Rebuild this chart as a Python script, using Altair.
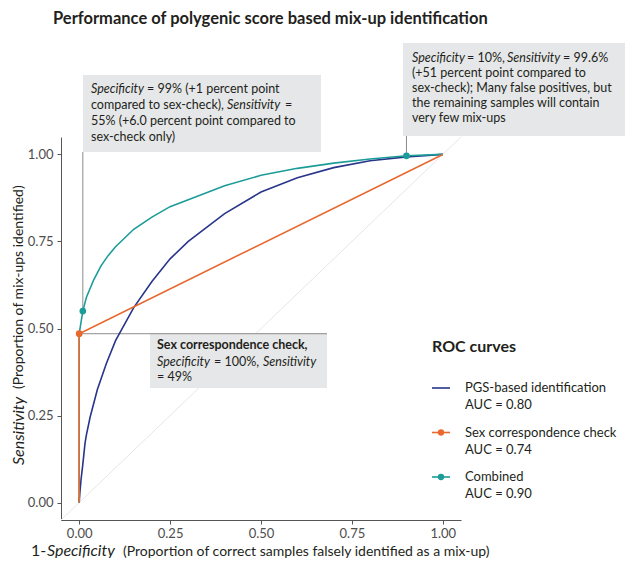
import altair as alt
import pandas as pd

# ---------------- data ----------------
series = ["PGS-based identification", "Sex correspondence check", "Combined"]
auc = [0.80, 0.74, 0.90]
colors = ["#28358a", "#e8682e", "#1c9c99"]

fpr_pgs = [0.0, 0.002, 0.005, 0.01, 0.016, 0.02, 0.03, 0.05, 0.075, 0.1, 0.15,
           0.2, 0.25, 0.3, 0.4, 0.5, 0.6, 0.7, 0.8, 0.9, 1.0]
tpr_pgs = [0.0, 0.03, 0.065, 0.11, 0.17, 0.195, 0.245, 0.325, 0.40, 0.465, 0.56,
           0.635, 0.70, 0.75, 0.83, 0.892, 0.933, 0.962, 0.982, 0.993, 1.0]

fpr_sex = [0.0, 0.0, 1.0]
tpr_sex = [0.0, 0.485, 1.0]

fpr_comb = [0.0, 0.0, 0.01, 0.02, 0.04, 0.06, 0.08, 0.1, 0.15, 0.2, 0.25, 0.3,
            0.4, 0.5, 0.6, 0.7, 0.8, 0.9, 1.0]
tpr_comb = [0.0, 0.485, 0.55, 0.59, 0.64, 0.68, 0.71, 0.735, 0.785, 0.82, 0.85,
            0.87, 0.91, 0.94, 0.96, 0.975, 0.987, 0.996, 1.0]

marked_series = ["Sex correspondence check", "Combined", "Combined"]
marked_fpr = [0.0, 0.01, 0.9]
marked_tpr = [0.485, 0.55, 0.996]

diag = [-0.05, 1.05]
ticks = [0.0, 0.25, 0.5, 0.75, 1.0]

# ---------------- tables ----------------
rows = []
for name, xs_, ys_ in [(series[0], fpr_pgs, tpr_pgs), (series[2], fpr_comb, tpr_comb),
                       (series[1], fpr_sex, tpr_sex)]:
    for i, (a, b) in enumerate(zip(xs_, ys_)):
        rows.append({"series": name, "fpr": a, "tpr": b, "idx": i})
curves = pd.DataFrame(rows)
marked = pd.DataFrame({"series": marked_series, "fpr": marked_fpr, "tpr": marked_tpr})
diag_df = pd.DataFrame({"fpr": diag, "tpr": diag})

# ---------------- layout (page pixels) ----------------
OX, OY = 61, 137          # page position of the plot-area origin
W, H = 400, 383
FONT = "Lato"
TXT = "#231f20"

def px(v):
    return v - OX

def py(v):
    return v - OY

color_scale = alt.Scale(domain=series, range=colors)
xs = alt.Scale(domain=[-0.05, 1.05], nice=False, zero=False)
ys = alt.Scale(domain=[-0.05, 1.05], nice=False, zero=False)
axis_common = dict(values=ticks, format=".2f", grid=False, domainColor="#555555",
                   tickColor="#555555", tickSize=4, labelFont=FONT, labelFontSize=13,
                   labelColor="#4d4d4d", title=None)

diag_layer = alt.Chart(diag_df).mark_line(color="#e6e6e6", strokeWidth=1).encode(
    x=alt.X("fpr:Q", scale=xs, axis=alt.Axis(labelPadding=3, **axis_common)),
    y=alt.Y("tpr:Q", scale=ys, axis=alt.Axis(labelPadding=4, **axis_common)),
)

# annotation boxes
boxes = pd.DataFrame({
    "x1": [px(83), px(403), px(150)],
    "x2": [px(321), px(625), px(327)],
    "y1": [py(75), py(43), py(333)],
    "y2": [py(152), py(136), py(388)],
})
box_layer = alt.Chart(boxes).mark_rect(color="#e6e7e8").encode(
    x=alt.X("x1:Q", scale=None, axis=None), x2="x2:Q",
    y=alt.Y("y1:Q", scale=None, axis=None), y2="y2:Q",
)

# connectors from marked points to the labels
conn_v = alt.Chart(pd.DataFrame({"fpr": [marked_fpr[1], marked_fpr[2]],
                                 "tpr": [marked_tpr[1], marked_tpr[2]]})).mark_rule(
    color="#8c8c8c", strokeWidth=1)
conn_1 = conn_v.transform_filter("datum.fpr < 0.5").encode(
    x=alt.X("fpr:Q", scale=xs), y=alt.Y("tpr:Q", scale=ys), y2=alt.value(py(152)))
conn_2 = conn_v.transform_filter("datum.fpr > 0.5").encode(
    x=alt.X("fpr:Q", scale=xs), y=alt.Y("tpr:Q", scale=ys), y2=alt.value(py(136)))
conn_h = alt.Chart(pd.DataFrame({"fpr": [marked_fpr[0]], "tpr": [marked_tpr[0]]})).mark_rule(
    color="#8c8c8c", strokeWidth=1).encode(
    x=alt.X("fpr:Q", scale=xs), x2=alt.value(px(327)), y=alt.Y("tpr:Q", scale=ys))

lines = alt.Chart(curves).mark_line(strokeWidth=1.6).encode(
    x=alt.X("fpr:Q", scale=xs), y=alt.Y("tpr:Q", scale=ys),
    color=alt.Color("series:N", scale=color_scale, legend=None),
    detail="series:N", order="idx:Q",
)
points = alt.Chart(marked).mark_point(filled=True, size=45, opacity=1).encode(
    x=alt.X("fpr:Q", scale=xs), y=alt.Y("tpr:Q", scale=ys),
    color=alt.Color("series:N", scale=color_scale, legend=None),
)

# ---------------- texts ----------------
S = 12.5
segments = [
    ("Performance of polygenic score based mix-up identification", 53, 24, "bold", 16.5),
    ("Specificity", 91, 93, "italic", S),
    ("= 99% (+1 percent point", 147, 93, "normal", S),
    ("compared to sex-check),", 91, 109, "normal", S),
    ("Sensitivity", 227, 109, "italic", S),
    ("=", 285, 109, "normal", S),
    ("55% (+6.0 percent point compared to", 91, 125, "normal", S),
    ("sex-check only)", 91, 141, "normal", S),
    ("Specificity", 412, 62, "italic", S),
    ("= 10%,", 467, 62, "normal", S),
    ("Sensitivity", 507, 62, "italic", S),
    ("= 99.6%", 563, 62, "normal", S),
    ("(+51 percent point compared to", 412, 77, "normal", S),
    ("sex-check); Many false positives, but", 412, 92, "normal", S),
    ("the remaining samples will contain", 412, 107, "normal", S),
    ("very few mix-ups", 412, 122, "normal", S),
    ("Sex correspondence check,", 157, 349, "bold", S),
    ("Specificity", 157, 366, "italic", S),
    ("= 100%,", 214, 366, "normal", S),
    ("Sensitivity", 263, 366, "italic", S),
    ("= 49%", 157, 381, "normal", S),
    ("1-", 31, 556, "normal", 16),
    ("Specificity", 47, 556, "italic", 16),
    ("(Proportion of correct samples falsely identified as a mix-up)", 123, 556, "normal", 14),
    ("ROC curves", 432, 352, "bold", 16),
]
seg_df = pd.DataFrame(segments, columns=["text", "px", "py", "style", "fs"])
seg_df["px"] = seg_df["px"] - OX
seg_df["py"] = seg_df["py"] - OY

rot = pd.DataFrame([
    ("Sensitivity", 19, 465, "italic", 16),
    ("(Proportion of mix-ups identified)", 19, 389, "normal", 14),
], columns=["text", "px", "py", "style", "fs"])
rot["px"] = rot["px"] - OX
rot["py"] = rot["py"] - OY

def text_layer(df, style, angle=0):
    kw = dict(align="left", baseline="alphabetic", font=FONT, color=TXT)
    if style == "italic":
        kw["fontStyle"] = "italic"
    if style == "bold":
        kw["fontWeight"] = "bold"
    if angle:
        kw["angle"] = angle
        kw["baseline"] = "middle"
    return alt.Chart(df).transform_filter(
        alt.datum.style == style).mark_text(**kw).encode(
        x=alt.X("px:Q", scale=None, axis=None),
        y=alt.Y("py:Q", scale=None, axis=None),
        text="text:N",
        size=alt.Size("fs:Q", scale=None, legend=None),
    )

text_layers = [text_layer(seg_df, s) for s in ["normal", "italic", "bold"]]
text_layers += [text_layer(rot, s, angle=270) for s in ["normal", "italic"]]

# ---------------- manual legend ----------------
leg = pd.DataFrame({
    "series": series,
    "line1": series,
    "line2": ["AUC = %.2f" % a for a in auc],
    "has_point": [False, True, True],
})
leg["ly"] = [py(388) + i * 44.5 for i in range(len(series))]
leg["ly2"] = leg["ly"] + 17

leg_rule = alt.Chart(leg).mark_rule(strokeWidth=1.6).encode(
    x=alt.value(px(432)), x2=alt.value(px(450)),
    y=alt.Y("ly:Q", scale=None, axis=None),
    color=alt.Color("series:N", scale=color_scale, legend=None),
)
leg_pt = alt.Chart(leg).transform_filter("datum.has_point").mark_point(
    filled=True, size=40, opacity=1).encode(
    x=alt.value(px(441)),
    y=alt.Y("ly:Q", scale=None, axis=None),
    color=alt.Color("series:N", scale=color_scale, legend=None),
)
leg_t1 = alt.Chart(leg).mark_text(align="left", baseline="middle", font=FONT,
                                  fontSize=13, color=TXT).encode(
    x=alt.value(px(465)), y=alt.Y("ly:Q", scale=None, axis=None), text="line1:N")
leg_t2 = alt.Chart(leg).mark_text(align="left", baseline="middle", font=FONT,
                                  fontSize=13, color=TXT).encode(
    x=alt.value(px(465)), y=alt.Y("ly2:Q", scale=None, axis=None), text="line2:N")

chart = alt.layer(
    diag_layer, box_layer, conn_1, conn_2, conn_h, lines, points,
    *text_layers, leg_rule, leg_pt, leg_t1, leg_t2,
).properties(
    width=W, height=H,
    autosize=alt.AutoSizeParams(type="none"),
    padding={"left": OX - 8, "top": OY - 8, "right": 617 - (OX - 8) - W,
             "bottom": 550 - (OY - 8) - H},
).configure_view(stroke=None)

chart.save("out.html", embed_options={"renderer": "svg", "actions": False})
